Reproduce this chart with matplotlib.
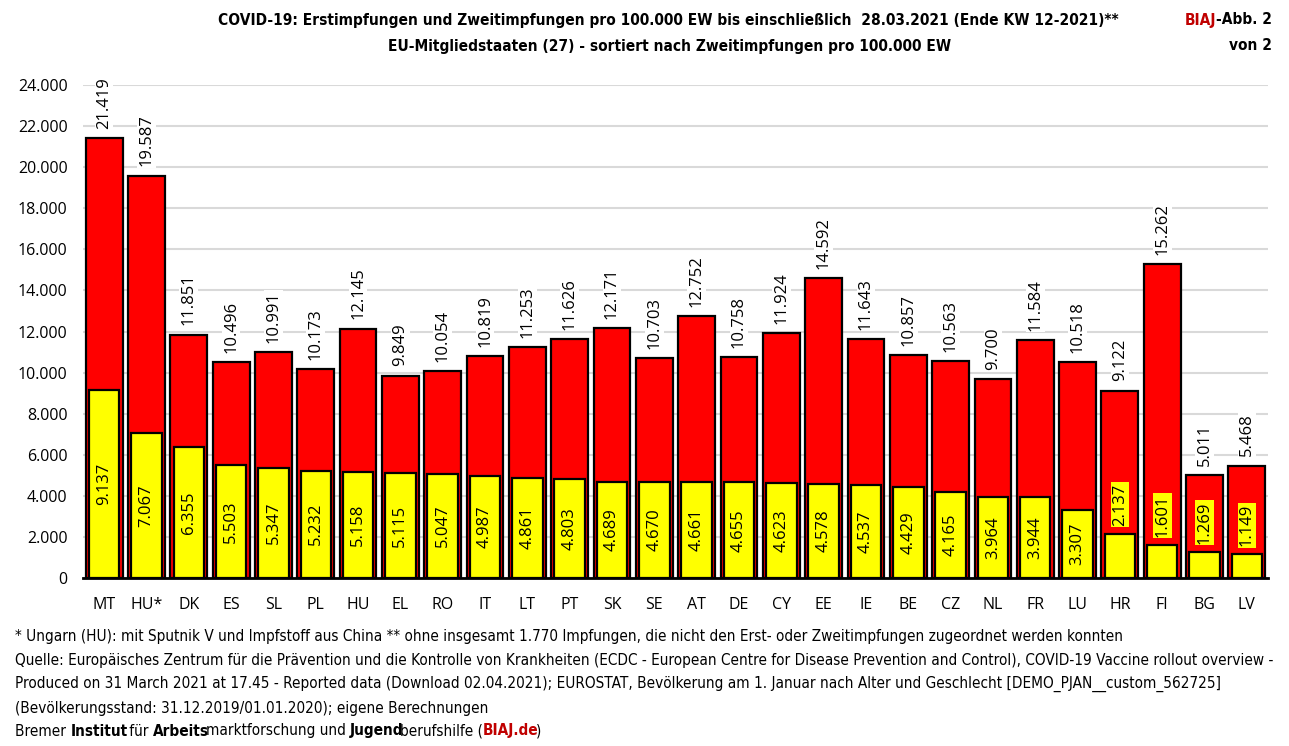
import numpy as np
import matplotlib
matplotlib.use("Agg")
import matplotlib.pyplot as plt
from matplotlib import font_manager
from matplotlib.ticker import FuncFormatter

laender = ['MT', 'HU*', 'DK', 'ES', 'SL', 'PL', 'HU', 'EL', 'RO', 'IT', 'LT', 'PT', 'SK', 'SE',
           'AT', 'DE', 'CY', 'EE', 'IE', 'BE', 'CZ', 'NL', 'FR', 'LU', 'HR', 'FI', 'BG', 'LV']
erst = [21419, 19587, 11851, 10496, 10991, 10173, 12145, 9849, 10054, 10819, 11253, 11626, 12171, 10703,
        12752, 10758, 11924, 14592, 11643, 10857, 10563, 9700, 11584, 10518, 9122, 15262, 5011, 5468]
zweit = [9137, 7067, 6355, 5503, 5347, 5232, 5158, 5115, 5047, 4987, 4861, 4803, 4689, 4670,
         4661, 4655, 4623, 4578, 4537, 4429, 4165, 3964, 3944, 3307, 2137, 1601, 1269, 1149]
y_ticks = np.arange(0, 24001, 2000)

num_font = ['Open Sans', 'DejaVu Sans']
# schmale Schrift (Calibri-Ersatz) falls vorhanden
namen = {f.name for f in font_manager.fontManager.ttflist}
if 'Liberation Sans Narrow' in namen:
    narrow = dict(family=['Liberation Sans Narrow', 'DejaVu Sans'])
else:
    narrow = dict(family=['DejaVu Sans'], stretch='condensed')


def de(v):
    return f"{int(v):,}".replace(",", ".")


fig = plt.figure(figsize=(12.89, 7.46), dpi=100)
ax = fig.add_axes([83 / 1289, 1 - 578 / 746, (1268 - 83) / 1289, (578 - 85) / 746])

x = np.arange(len(laender))
ax.bar(x, erst, width=0.87, color='#FF0000', edgecolor='black', linewidth=1.6, zorder=2)
ax.bar(x, zweit, width=0.72, color='#FFFF00', edgecolor='black', linewidth=1.6, zorder=3)

for i in range(len(laender)):
    ax.text(x[i], erst[i] + 450, de(erst[i]), rotation=90, ha='center', va='bottom',
            fontsize=12, family=num_font, zorder=4,
            bbox=dict(facecolor='white', edgecolor='none', pad=1))
    if zweit[i] > 3000:
        ax.text(x[i], zweit[i] / 2, de(zweit[i]), rotation=90, ha='center', va='center',
                fontsize=12, family=num_font, zorder=4)
    else:
        ax.text(x[i], zweit[i] + 400, de(zweit[i]), rotation=90, ha='center', va='bottom',
                fontsize=12, family=num_font, zorder=4,
                bbox=dict(facecolor='#FFFF00', edgecolor='none', pad=1))

ax.set_xlim(-0.5, len(laender) - 0.5)
ax.set_ylim(0, 24000)
ax.set_yticks(y_ticks)
ax.yaxis.set_major_formatter(FuncFormatter(lambda v, p: de(v)))
ax.set_xticks(x)
ax.set_xticklabels(laender)
for lab in ax.get_xticklabels() + ax.get_yticklabels():
    lab.set_family(num_font)
    lab.set_fontsize(11.5)
ax.tick_params(axis='y', length=0, pad=11)
ax.tick_params(axis='x', length=0, pad=14)
ax.yaxis.grid(True, color='#D9D9D9', linewidth=1.5, zorder=0)
ax.set_axisbelow(True)
for s in ['top', 'right', 'left']:
    ax.spines[s].set_visible(False)
ax.spines['bottom'].set_linewidth(2)
ax.spines['bottom'].set_zorder(5)

# Titel
fig.text(668 / 1289, 1 - 20 / 746, 'COVID-19: Erstimpfungen und Zweitimpfungen pro 100.000 EW bis einschließlich  28.03.2021 (Ende KW 12-2021)**',
         ha='center', va='center', fontsize=11.1, fontweight='bold', **narrow)
fig.text(670 / 1289, 1 - 46 / 746, 'EU-Mitgliedstaaten (27) - sortiert nach Zweitimpfungen pro 100.000 EW',
         ha='center', va='center', fontsize=11.1, fontweight='bold', **narrow)
t_abb = fig.text(1272 / 1289, 1 - 20 / 746, '-Abb. 2', ha='right', va='center', fontsize=11.1,
                 fontweight='bold', **narrow)
ax.annotate('BIAJ', xy=(0, 0), xycoords=t_abb, ha='right', va='bottom', fontsize=11.1,
            fontweight='bold', color='#C00000', annotation_clip=False, **narrow)
fig.text(1272 / 1289, 1 - 46 / 746, 'von 2', ha='right', va='center', fontsize=11.1,
         fontweight='bold', **narrow)

# Fußnoten
fuss = ['* Ungarn (HU): mit Sputnik V und Impfstoff aus China ** ohne insgesamt 1.770 Impfungen, die nicht den Erst- oder Zweitimpfungen zugeordnet werden konnten',
        'Quelle: Europäisches Zentrum für die Prävention und die Kontrolle von Krankheiten (ECDC - European Centre for Disease Prevention and Control), COVID-19 Vaccine rollout overview -',
        'Produced on 31 March 2021 at 17.45 - Reported data (Download 02.04.2021); EUROSTAT, Bevölkerung am 1. Januar nach Alter und Geschlecht [DEMO_PJAN__custom_562725]',
        '(Bevölkerungsstand: 31.12.2019/01.01.2020); eigene Berechnungen']
for k, zeile in enumerate(fuss):
    fig.text(15 / 1289, 1 - (636 + 24 * k) / 746, zeile, ha='left', va='center', fontsize=11, **narrow)

teile = [('Bremer ', 'normal', 'black'), ('Institut', 'bold', 'black'), (' für ', 'normal', 'black'),
         ('Arbeits', 'bold', 'black'), ('marktforschung und ', 'normal', 'black'),
         ('Jugend', 'bold', 'black'), ('berufshilfe (', 'normal', 'black'),
         ('BIAJ.de', 'bold', '#C00000'), (')', 'normal', 'black')]
prev = fig.text(15 / 1289, 1 - 731 / 746, teile[0][0], ha='left', va='center', fontsize=11,
                fontweight=teile[0][1], color=teile[0][2], **narrow)
prev_w = teile[0][1]
for txt, w, c in teile[1:]:
    dx = -3 if prev_w == 'bold' else 0
    prev = ax.annotate(txt, xy=(1, 0), xycoords=prev, xytext=(dx, 0), textcoords='offset pixels',
                       ha='left', va='bottom', fontsize=11,
                       fontweight=w, color=c, annotation_clip=False, **narrow)
    prev_w = w

fig.savefig('out.png', dpi=100)
